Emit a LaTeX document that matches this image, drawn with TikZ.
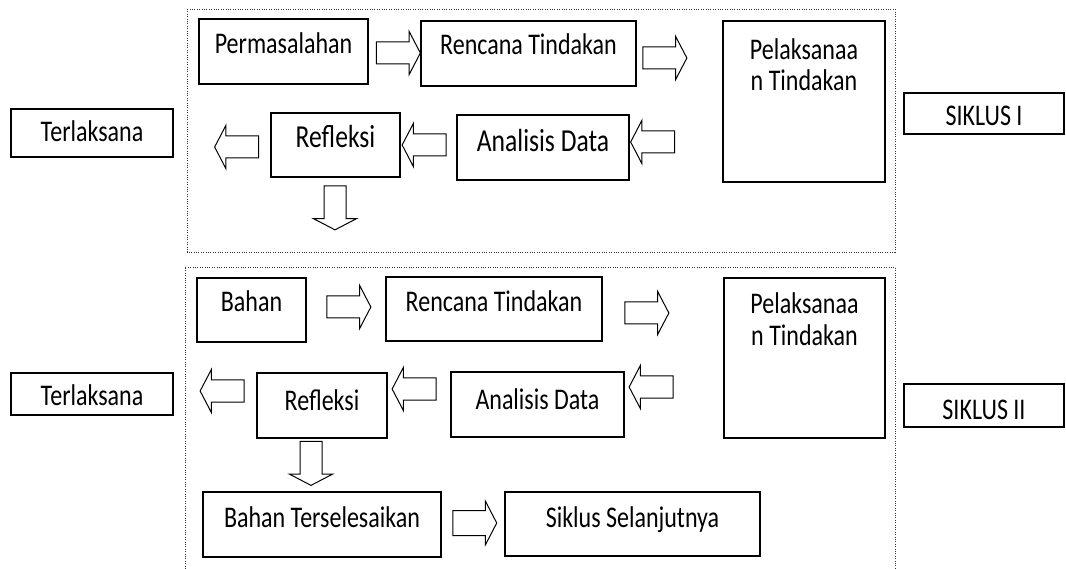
\documentclass[tikz,border=0pt]{standalone}
\usepackage{fontspec}
\setmainfont[FakeStretch=0.8]{Carlito}
\usetikzlibrary{shapes.arrows}

\begin{document}
\begin{tikzpicture}[x=1pt,y=-1pt,
	kotak/.style={draw=black, line width=1.2pt, rectangle, inner sep=0pt, font=\fontsize{30}{34}\selectfont},
	besar/.style={font=\fontsize{32}{36}\selectfont},
	panah/.style={draw=black, line width=1pt, single arrow, inner sep=0pt, text height=10.5pt, text depth=10.5pt, single arrow head extend=10.5pt, single arrow tip angle=125, minimum height=44pt},
	bingkai/.style={line width=0.9pt, dash pattern=on 1pt off 1.4pt, black!80}]
	\useasboundingbox (0,0) rectangle (1066,569);
	% siklus I
	\draw [bingkai] (187,9) rectangle (895,252);
	\node [kotak, minimum width=169pt, text height=35pt, text depth=30pt] (perm) at (283.5,51.5) {Permasalahan};
	\node [kotak, minimum width=215pt, text height=34pt, text depth=31pt] (renc1) at (528.5,53.5) {Rencana Tindakan};
	\node [kotak, minimum width=162pt, text height=70pt, text depth=91pt, align=center, font=\fontsize{30}{31}\selectfont] (pel1) at (804,101.5) {Pelaksanaa\\n Tindakan};
	\node [kotak, besar, minimum width=172pt, text height=37pt, text depth=28pt] (anal1) at (543,147.5) {Analisis Data};
	\node [kotak, besar, minimum width=129pt, text height=35pt, text depth=29pt] (refl1) at (335.5,145) {Refleksi};
	\node [kotak, minimum width=162pt, text height=33pt, text depth=15pt] (term1) at (92,133) {Terlaksana};
	\node [kotak, minimum width=160pt, text height=33pt, text depth=8pt] (sik1) at (984,113.5) {SIKLUS I};
	\node [panah] (a1) at (395.5,53) {};
	\node [panah] (a2) at (662,58) {};
	\node [panah, rotate=180] (a3) at (655.5,142) {};
	\node [panah, rotate=180] (a4) at (427,145) {};
	\node [panah, rotate=180] (a5) at (239.5,147) {};
	\node [panah, rotate=-90] (a6) at (335,205) {};
	% siklus II
	\draw [bingkai] (185,569) |- (895,267) -- (895,569);
	\node [kotak, minimum width=109pt, text height=34pt, text depth=30pt] (bahan) at (251.5,310) {Bahan};
	\node [kotak, minimum width=216pt, text height=35pt, text depth=29pt] (renc2) at (494,309) {Rencana Tindakan};
	\node [kotak, minimum width=161pt, text height=67pt, text depth=93pt, align=center, font=\fontsize{30}{32}\selectfont] (pel2) at (804.5,358) {Pelaksanaa\\n Tindakan};
	\node [kotak, minimum width=173pt, text height=37pt, text depth=28pt] (anal2) at (537.5,404.5) {Analisis Data};
	\node [kotak, minimum width=130pt, text height=37pt, text depth=28pt] (refl2) at (322,405.5) {Refleksi};
	\node [kotak, minimum width=162pt, text height=32pt, text depth=10pt] (term2) at (92,394) {Terlaksana};
	\node [kotak, minimum width=160pt, text height=35pt, text depth=8pt] (sik2) at (984,405.5) {SIKLUS II};
	\node [kotak, minimum width=238pt, text height=35pt, text depth=30pt] (bts) at (322,524.5) {Bahan Terselesaikan};
	\node [kotak, minimum width=255pt, text height=35pt, text depth=29pt] (sel) at (632.5,524) {Siklus Selanjutnya};
	\node [panah] (b1) at (346,307) {};
	\node [panah] (b2) at (644,313) {};
	\node [panah, rotate=180] (b3) at (654,387) {};
	\node [panah, rotate=180] (b4) at (417,389) {};
	\node [panah, rotate=180] (b5) at (225,391) {};
	\node [panah, rotate=-90] (b6) at (311,460.5) {};
	\node [panah, text height=12pt, text depth=12pt, single arrow head extend=9.5pt] (b7) at (471.5,523) {};
\end{tikzpicture}
\end{document}
